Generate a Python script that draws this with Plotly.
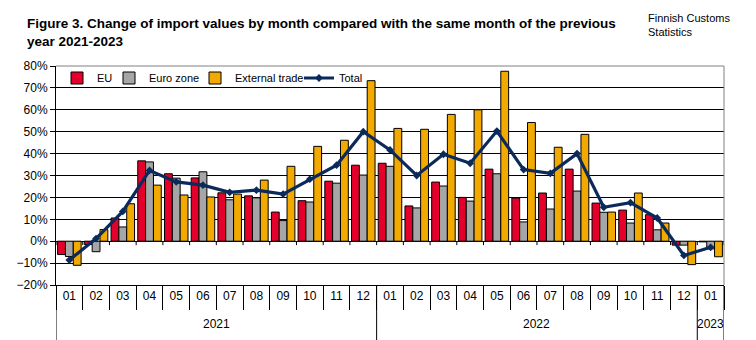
import plotly.graph_objects as go

years = ["2021"] * 12 + ["2022"] * 12 + ["2023"]
months = ["01", "02", "03", "04", "05", "06", "07", "08", "09", "10", "11", "12"] * 2 + ["01"]

eu = [-6.1, -1.5, 10.6, 36.7, 30.8, 28.9, 22.1, 20.7, 13.3, 18.5, 27.4, 34.7,
      35.6, 16.1, 27.0, 20.0, 32.9, 19.7, 22.0, 32.9, 17.4, 14.2, 12.1, -1.8, -0.3]
euro_zone = [-7.0, -4.8, 6.5, 36.2, 28.8, 31.7, 18.9, 19.8, 9.4, 17.9, 26.5, 30.2,
             34.2, 15.2, 25.2, 18.3, 30.8, 8.8, 14.7, 22.9, 13.2, 8.3, 5.2, -1.8, -3.5]
external = [-11.0, 5.3, 17.1, 25.6, 21.1, 20.2, 21.5, 27.9, 34.2, 43.3, 46.1, 73.3,
            51.5, 51.1, 57.9, 60.0, 77.6, 54.2, 42.9, 48.8, 13.3, 22.0, 8.3, -10.7, -7.1]
total = [-8.6, 1.2, 13.6, 32.3, 27.1, 25.6, 22.3, 23.3, 21.5, 28.3, 34.7, 50.0,
         41.7, 30.0, 39.7, 35.6, 50.3, 32.7, 31.0, 40.0, 15.5, 17.6, 10.6, -6.5, -2.8]

keys = [f"{y}-{m}" for y, m in zip(years, months)]
n = len(keys)

# plot-area geometry in pixels (for paper-coordinate conversions)
W, H = 756, 340
ML, MR, MT, MB = 56, 32, 66, 55
PW, PH = W - ML - MR, H - MT - MB


def px(p):
    return (p - ML) / PW


def py(p):
    return 1 - (p - MT) / PH


FONT = "Liberation Sans, Arial, sans-serif"
edge = dict(color="black", width=1)

fig = go.Figure()
fig.add_trace(go.Bar(x=keys, y=eu, name="EU", legend="legend",
                     marker=dict(color="#E4002B", line=edge)))
fig.add_trace(go.Bar(x=keys, y=euro_zone, name="Euro zone", legend="legend2",
                     marker=dict(color="#A6A6A6", line=edge)))
fig.add_trace(go.Bar(x=keys, y=external, name="External trade", legend="legend3",
                     marker=dict(color="#F2A900", line=edge)))
fig.add_trace(go.Scatter(x=keys, y=total, name="Total", legend="legend4",
                         mode="lines+markers",
                         line=dict(color="#0B2A5C", width=3.2),
                         marker=dict(symbol="diamond", size=6, color="#0B2A5C")))

# year group boundaries and labels, derived from the data
bounds = [-0.5]
for i in range(1, n):
    if years[i] != years[i - 1]:
        bounds.append(i - 0.5)
bounds.append(n - 0.5)

shapes = [
    dict(type="line", xref="paper", yref="paper", x0=0, x1=1, y0=1, y1=1,
         line=dict(color="#808080", width=1)),
    dict(type="line", xref="paper", yref="paper", x0=1, x1=1, y0=0, y1=1,
         line=dict(color="#808080", width=1)),
]
# small category tick marks hanging below the zero line
for i in range(n + 1):
    shapes.append(dict(type="line", xref="x", yref="y", x0=i - 0.5, x1=i - 0.5,
                       y0=0, y1=-1.8, line=dict(color="black", width=1), layer="below"))
annotations = []
for b in bounds:
    shapes.append(dict(type="line", xref="x", yref="paper", x0=b, x1=b,
                       y0=0, y1=py(340), line=dict(color="black", width=1)))
for a, b in zip(bounds[:-1], bounds[1:]):
    annotations.append(dict(text=years[int(a + 0.5)], xref="x", yref="paper",
                            x=(a + b) / 2, y=py(324), xanchor="center",
                            yanchor="middle", showarrow=False,
                            font=dict(family=FONT, size=12, color="black")))

annotations.append(dict(
    text="<b>Figure 3. Change of import values by month compared with the same month of the previous<br>year 2021-2023</b>",
    xref="paper", yref="paper", x=px(25), y=py(14), xanchor="left", yanchor="top",
    align="left", showarrow=False, font=dict(family=FONT, size=13.5, color="black")))
annotations.append(dict(
    text="Finnish Customs<br>Statistics", xref="paper", yref="paper",
    x=px(646), y=py(10), xanchor="left", yanchor="top", align="left",
    showarrow=False, font=dict(family=FONT, size=11, color="black")))


def leg(text_x):
    return dict(orientation="h", x=px(text_x - 38), y=py(78), xanchor="left",
                yanchor="middle", bgcolor="rgba(255,255,255,0)",
                font=dict(family=FONT, size=11, color="black"), itemwidth=30)


fig.update_layout(
    width=W, height=H,
    margin=dict(l=ML, r=MR, t=MT, b=MB),
    paper_bgcolor="white", plot_bgcolor="white",
    barmode="group", bargap=0.12, bargroupgap=0,
    font=dict(family=FONT, size=12, color="black"),
    showlegend=True,
    legend=leg(95), legend2=leg(147), legend3=leg(233), legend4=leg(337),
    xaxis=dict(type="category", range=[-0.5, n - 0.5], tickvals=keys, ticktext=months,
               showgrid=False, showline=True, linecolor="black", linewidth=1,
               ticks="outside", tickson="boundaries", ticklen=24, tickcolor="black",
               tickfont=dict(family=FONT, size=12), zeroline=False),
    yaxis=dict(range=[-20, 80], dtick=10, ticksuffix="%", showgrid=True,
               gridcolor="black", gridwidth=1, zeroline=True, zerolinecolor="black",
               zerolinewidth=1, showline=True, linecolor="black", linewidth=1,
               ticks="outside", ticklen=5, tickcolor="black",
               tickfont=dict(family=FONT, size=12)),
    shapes=shapes,
    annotations=annotations,
)

fig.write_html("out.html")
